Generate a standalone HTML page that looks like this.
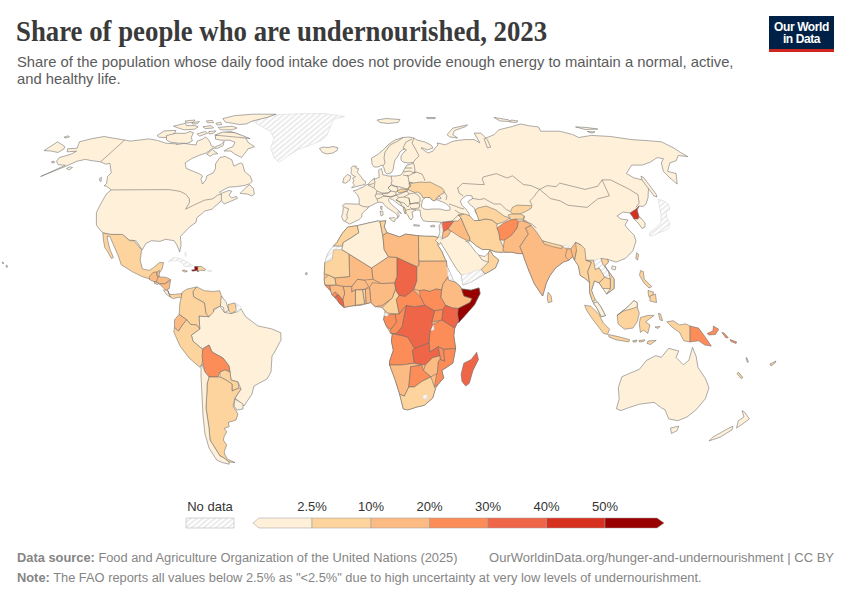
<!DOCTYPE html>
<html><head><meta charset="utf-8">
<style>
html,body{margin:0;padding:0;background:#fff;width:850px;height:600px;overflow:hidden;position:relative}
.t{position:absolute;white-space:nowrap;font-family:"Liberation Sans",sans-serif}
#title{left:16px;top:15.7px;font-family:"Liberation Serif",serif;font-weight:bold;font-size:28.5px;color:#3a3a3a;line-height:32px;transform-origin:0 0;transform:scaleX(0.94)}
#sub1,#sub2{left:17px;font-size:14.8px;color:#5b5b5b;line-height:17px;transform-origin:0 0}
#sub1{top:53.5px}#sub2{top:70.7px}
#logo{position:absolute;left:769px;top:16px;width:65px;height:33px;background:#002147;border-bottom:3px solid #ce261e}
#logo div{position:absolute;left:0;width:65px;text-align:center;color:#fff;font-family:"Liberation Sans",sans-serif;font-weight:bold;font-size:12px;letter-spacing:-0.4px;line-height:13px}
.foot{font-size:13px;color:#858585;line-height:15px;transform-origin:0 0}
.foot b{color:#858585}
.lg{font-size:13px;color:#333;line-height:15px}
svg{position:absolute;left:0;top:0}
</style></head><body>
<div id="title" class="t">Share of people who are undernourished, 2023</div>
<div id="sub1" class="t">Share of the population whose daily food intake does not provide enough energy to maintain a normal, active,</div>
<div id="sub2" class="t">and healthy life.</div>
<div id="logo"><div style="top:5px">Our World</div><div style="top:17px">in Data</div></div>
<svg width="850" height="600" viewBox="0 0 850 600">
<defs><pattern id="hatch" width="3.9" height="4" patternUnits="userSpaceOnUse" patternTransform="rotate(50)"><rect width="3.9" height="4" fill="#fff"/><line x1="1" y1="0" x2="1" y2="4" stroke="#e2e2e2" stroke-width="1.3"/></pattern></defs>
<g stroke="#6a6a6a" stroke-width="0.55" stroke-linejoin="round">
<path d="M79.4,141.8 L91.2,138.8 L104.1,136.5 L110.0,137.6 L124.7,140.0 L130.5,141.1 L148.9,138.9 L157.4,140.4 L165.8,143.2 L177.1,143.9 L176.5,144.5 L184.1,143.4 L191.7,144.5 L196.0,145.0 L197.1,141.2 L202.5,139.1 L205.7,136.9 L207.9,139.1 L210.1,142.3 L211.2,145.6 L214.4,147.2 L220.9,144.5 L224.2,141.2 L223.1,145.6 L217.7,148.3 L212.2,148.3 L209.0,151.0 L205.7,153.2 L199.2,155.3 L191.7,158.6 L185.2,162.9 L186.2,168.3 L193.8,171.6 L199.2,173.7 L202.5,175.9 L200.9,179.2 L202.5,184.0 L205.7,180.2 L206.8,175.9 L213.3,172.7 L215.5,168.3 L215.5,164.0 L219.8,157.5 L225.2,156.4 L231.7,159.7 L233.9,166.2 L240.4,162.9 L242.6,164.0 L244.7,171.6 L250.1,175.9 L252.3,181.3 L249.6,183.8 L244.0,185.6 L236.5,186.6 L228.9,187.1 L225.2,188.9 L219.5,192.2 L221.0,193.5 L228.9,190.4 L231.8,191.3 L228.9,195.1 L231.8,197.9 L236.5,196.5 L237.4,198.4 L224.2,204.0 L221.4,200.7 L213.9,207.3 L212.0,209.2 L204.5,211.1 L201.6,213.9 L196.9,217.6 L196.0,222.4 L189.4,227.1 L180.4,236.5 L181.1,244.9 L179.7,252.0 L176.9,244.9 L174.1,240.7 L165.6,239.3 L160.0,241.4 L151.5,240.7 L145.8,243.5 L142.3,249.9 L135.9,240.7 L128.9,240.0 L123.2,235.1 L109.8,234.4 L103.5,233.0 L101.4,231.5 L96.4,225.2 L96.4,212.5 L100.6,204.0 L106.3,194.1 L111.2,189.9 L106.5,186.2 L104.1,185.9 L106.5,183.5 L107.6,176.5 L111.2,172.9 L110.0,163.5 L105.3,164.1 L100.6,161.8 L91.2,160.6 L85.3,159.4 L77.1,161.2 L65.3,166.5 L40.6,176.5 L65.3,165.3 L58.2,164.7 L56.5,161.2 L59.4,157.6 L71.2,154.1 L76.5,151.2 L67.1,151.8 L67.6,148.8 L77.1,148.2 L78.2,145.3 Z" fill="#fef0d9"/>
<path d="M240.2,193.2 L245.9,187.5 L249.6,184.7 L253.4,188.5 L254.4,194.1 L251.5,196.0 L247.8,194.1 L242.1,193.6 Z" fill="#fef0d9"/>
<path d="M377.0,120.0 L386.0,118.5 L400.0,119.5 L398.0,122.5 L388.0,123.5 L380.0,122.5 Z" fill="#fef0d9"/>
<path d="M2.0,262.0 L4.0,263.0 L3.0,264.0 Z" fill="#fef0d9"/>
<path d="M6.0,265.0 L8.0,266.5 L6.5,267.5 Z" fill="#fef0d9"/>
<path d="M252.9,120.9 L275.9,114.7 L298.8,113.8 L323.5,113.5 L344.7,116.5 L334.1,119.1 L330.6,126.2 L327.1,135.0 L321.8,140.3 L309.4,145.6 L298.8,149.1 L284.7,157.9 L279.4,162.3 L274.1,157.9 L270.6,147.4 L274.1,138.5 L270.6,131.5 L258.2,124.4 Z" fill="url(#hatch)" stroke="#d4d4d4"/>
<path d="M319.5,148.5 L323.0,147.0 L328.0,147.5 L333.0,146.5 L338.0,147.8 L337.0,150.5 L333.0,153.0 L327.0,154.0 L322.5,152.5 L321.0,150.5 Z" fill="#fef0d9"/>
<path d="M222.9,118.6 L234.7,115.6 L252.9,114.2 L275.9,114.2 L267.1,117.4 L252.9,120.9 L246.0,124.0 L239.4,124.5 L232.4,123.3 L225.3,122.1 Z" fill="#fef0d9"/>
<path d="M215.5,135.8 L222.0,132.6 L230.7,131.5 L237.2,133.7 L245.8,138.0 L248.0,142.3 L254.5,146.7 L248.0,148.8 L245.8,152.1 L241.5,157.5 L235.0,154.2 L230.7,151.0 L224.2,151.0 L227.4,148.8 L232.8,146.7 L235.0,142.3 L229.6,140.2 L220.9,140.2 L215.5,139.1 Z" fill="#fef0d9"/>
<path d="M206.8,154.2 L212.2,149.4 L217.7,153.7 L213.3,154.2 L210.1,156.4 Z" fill="#fef0d9"/>
<path d="M157.1,135.6 L164.1,130.9 L175.9,130.4 L174.7,133.3 L167.6,137.4 L159.4,137.4 Z" fill="#fef0d9"/>
<path d="M166.5,135.6 L175.9,133.3 L185.3,133.3 L190.0,131.5 L193.5,132.7 L191.2,137.4 L192.4,140.9 L187.6,143.3 L179.4,143.3 L170.0,142.1 L166.5,139.8 Z" fill="#fef0d9"/>
<path d="M173.5,126.2 L185.3,123.3 L186.5,125.6 L194.7,125.6 L198.2,126.8 L194.7,129.2 L184.1,129.8 L178.2,128.0 Z" fill="#fef0d9"/>
<path d="M191.8,122.7 L199.4,121.5 L197.1,123.9 L192.5,124.0 Z" fill="#fef0d9"/>
<path d="M202.9,126.8 L211.2,125.6 L213.5,128.0 L205.3,128.6 Z" fill="#fef0d9"/>
<path d="M206.5,120.9 L212.4,120.4 L213.5,122.7 L207.6,122.7 Z" fill="#fef0d9"/>
<path d="M215.9,123.3 L220.6,122.1 L221.8,124.5 L217.1,125.1 Z" fill="#fef0d9"/>
<path d="M218.2,127.4 L232.4,126.2 L237.1,128.0 L232.4,129.8 L220.6,129.8 Z" fill="#fef0d9"/>
<path d="M197.1,133.9 L205.3,131.5 L207.6,133.3 L199.4,136.2 Z" fill="#fef0d9"/>
<path d="M208.8,131.5 L215.9,130.9 L213.5,133.3 L209.0,134.0 Z" fill="#fef0d9"/>
<path d="M214.7,135.1 L222.9,132.1 L234.7,132.7 L244.1,136.2 L250.0,138.6 L245.8,138.0 Z" fill="#fef0d9"/>
<path d="M185.0,121.0 L195.0,120.0 L193.0,122.5 L186.0,123.0 Z" fill="#fef0d9"/>
<path d="M44.1,150.6 L57.6,141.8 L64.7,146.5 L64.1,148.8 L58.0,152.5 L51.0,151.0 Z" fill="#fef0d9"/>
<path d="M102.8,232.9 L110.6,234.4 L122.6,234.4 L129.6,240.7 L133.9,240.7 L141.6,249.9 L140.2,260.5 L142.4,268.9 L149.4,270.4 L153.6,267.5 L159.3,262.6 L163.5,262.6 L162.1,268.9 L159.3,273.2 L149.4,278.8 L142.4,276.7 L132.5,271.8 L121.2,264.7 L118.4,256.2 L109.9,236.5 L107.1,236.0 L107.8,240.7 L109.9,249.2 L113.4,257.6 L111.3,258.4 L107.8,252.0 L104.9,247.8 L103.5,240.7 Z" fill="#fdd49e"/>
<path d="M149.4,276.7 L152.9,272.5 L156.5,271.8 L157.2,276.0 L159.3,276.7 L156.5,281.6 L153.6,281.6 L149.4,279.5 Z" fill="#fdbb84"/>
<path d="M157.2,271.8 L159.3,270.4 L159.3,276.0 L157.2,276.0 Z" fill="#fdd49e"/>
<path d="M157.9,276.7 L166.4,277.4 L170.6,279.5 L164.9,283.8 L159.3,283.8 L156.5,281.6 Z" fill="#fdbb84"/>
<path d="M154.4,281.6 L158.6,283.1 L157.9,284.5 L154.5,283.5 Z" fill="#fdd49e"/>
<path d="M159.3,283.8 L164.9,283.8 L170.6,280.2 L169.2,288.7 L165.6,290.1 L161.5,286.0 Z" fill="#fdbb84"/>
<path d="M163.5,290.1 L165.6,290.1 L167.8,290.6 L170.6,297.2 L166.4,294.4 Z" fill="#fef0d9"/>
<path d="M167.8,290.6 L169.2,294.4 L174.8,294.4 L181.9,293.6 L182.6,298.6 L179.1,297.2 L173.4,298.6 L170.6,297.2 Z" fill="#fdd49e"/>
<path d="M168.5,261.5 L172.1,258.2 L176.8,257.6 L182.6,259.4 L188.5,262.9 L192.6,265.6 L189.7,266.5 L184.4,266.5 L182.6,263.5 L177.9,260.6 L172.1,260.6 Z" fill="url(#hatch)" stroke="#d4d4d4"/>
<path d="M191.5,270.0 L195.0,269.4 L194.4,266.5 L197.9,266.5 L197.9,271.8 L196.8,270.6 L192.6,271.2 Z" fill="#990000"/>
<path d="M197.9,266.5 L201.5,266.5 L205.6,269.4 L205.0,270.6 L200.3,270.3 L197.9,271.8 Z" fill="#fdd49e"/>
<path d="M182.1,270.6 L184.4,270.0 L187.4,271.2 L185.0,272.1 Z" fill="#fdd49e"/>
<path d="M207.9,270.3 L211.5,270.3 L211.5,271.5 L207.9,271.5 Z" fill="url(#hatch)" stroke="#d4d4d4"/>
<path d="M184.9,252.9 L185.6,252.4 L186.2,255.9 L185.3,256.5 Z" fill="url(#hatch)" stroke="#d4d4d4"/>
<path d="M199.0,316.0 L208.9,316.7 L213.5,310.6 L219.7,306.0 L224.2,312.1 L230.4,313.6 L236.5,312.1 L241.1,309.1 L245.7,316.7 L257.9,325.9 L271.7,328.9 L280.8,332.8 L281.0,340.0 L274.7,351.9 L272.0,356.0 L271.0,372.0 L267.0,379.0 L254.0,386.0 L252.0,394.0 L244.0,406.0 L235.0,398.0 L241.0,389.0 L238.0,382.0 L231.0,380.0 L230.0,372.0 L229.0,366.0 L223.0,358.0 L212.0,352.0 L209.0,345.0 L202.1,348.8 L192.9,341.2 L191.4,335.1 L199.8,329.0 Z" fill="#fef0d9"/>
<path d="M196.7,286.9 L204.4,290.7 L213.5,291.5 L219.7,290.7 L221.2,295.3 L222.7,298.4 L220.4,306.0 L213.5,309.1 L213.5,312.1 L208.9,316.7 L205.9,313.6 L204.4,302.9 L193.6,296.8 L192.9,291.5 Z" fill="#fdd49e"/>
<path d="M181.4,296.8 L182.2,292.2 L186.8,289.2 L196.7,286.9 L192.9,291.5 L193.6,296.8 L204.4,302.9 L205.9,313.6 L208.9,316.7 L199.0,316.0 L199.8,329.0 L196.7,325.1 L190.6,324.4 L186.8,319.8 L179.1,314.4 L179.9,302.9 Z" fill="#fdd49e"/>
<path d="M179.1,314.4 L186.8,319.8 L182.9,324.4 L178.4,331.2 L174.5,327.4 L174.5,319.8 Z" fill="#fdbb84"/>
<path d="M174.5,327.4 L178.4,331.2 L182.9,324.4 L186.8,319.8 L190.6,324.4 L196.7,325.1 L199.8,329.0 L191.4,335.1 L192.9,341.2 L202.1,348.8 L203.0,356.0 L202.0,364.0 L199.8,367.2 L189.1,358.0 L179.9,345.8 L173.8,332.0 Z" fill="#fdd49e"/>
<path d="M221.2,296.1 L225.8,301.4 L228.8,310.6 L224.2,312.4 L223.5,307.5 L220.4,306.0 Z" fill="#fef0d9"/>
<path d="M228.1,304.5 L235.0,302.9 L236.5,310.6 L231.1,313.6 L228.8,310.6 Z" fill="#fdd49e"/>
<path d="M236.5,303.7 L241.1,306.8 L238.8,312.1 L236.5,310.6 Z" fill="url(#hatch)" stroke="#d4d4d4"/>
<path d="M203.0,349.0 L209.0,345.0 L212.0,352.0 L223.0,358.0 L229.0,366.0 L230.0,372.0 L225.0,370.0 L220.0,372.0 L218.0,377.0 L209.0,377.0 L205.0,372.0 L203.0,364.0 L202.0,356.0 Z" fill="#fc8d59"/>
<path d="M220.0,372.0 L225.0,370.0 L230.0,372.0 L231.0,380.0 L238.0,382.0 L239.0,388.0 L232.0,391.0 L232.0,384.0 L226.0,380.0 L220.0,377.0 Z" fill="#fdd49e"/>
<path d="M209.0,377.0 L218.0,377.0 L220.0,377.0 L226.0,380.0 L232.0,384.0 L232.0,391.0 L239.0,388.0 L241.0,389.0 L235.0,398.0 L233.0,406.0 L238.0,414.0 L236.0,420.0 L228.3,422.5 L229.2,426.7 L224.2,428.3 L226.7,431.7 L224.2,436.7 L223.3,440.0 L226.7,445.0 L224.2,451.7 L225.0,455.0 L227.5,459.2 L235.0,462.5 L229.0,462.0 L224.0,458.0 L220.0,456.0 L215.0,448.0 L210.0,440.0 L209.0,428.0 L206.0,408.0 L207.0,390.0 L207.0,384.0 Z" fill="#fdd49e"/>
<path d="M202.0,364.0 L205.0,372.0 L209.0,377.0 L207.0,384.0 L207.0,390.0 L206.0,408.0 L209.0,428.0 L210.0,440.0 L215.0,448.0 L220.0,456.0 L224.0,458.0 L229.0,462.0 L229.2,464.2 L222.0,462.5 L216.7,460.0 L209.0,448.0 L205.0,434.0 L203.0,416.0 L202.0,396.0 L201.0,376.0 L201.0,366.0 Z" fill="#fef0d9"/>
<path d="M235.0,399.0 L243.0,404.0 L243.0,409.0 L237.0,410.0 L234.0,406.0 Z" fill="#fef0d9"/>
<path d="M324.9,262.4 L327.7,253.9 L333.4,246.1 L336.9,242.6 L341.8,234.1 L347.5,227.1 L357.4,225.6 L368.2,223.1 L378.1,220.9 L379.9,221.4 L385.6,220.7 L384.2,227.1 L387.0,232.7 L399.7,236.9 L405.4,234.1 L418.5,235.8 L426.7,236.3 L433.7,236.3 L438.3,237.5 L437.8,245.1 L441.8,251.5 L445.3,259.7 L447.1,266.7 L449.4,271.4 L453.5,280.7 L459.4,285.4 L461.7,288.9 L471.0,290.2 L479.0,287.9 L480.1,293.5 L474.5,304.7 L466.6,313.7 L458.7,322.5 L458.3,321.0 L454.7,328.3 L453.8,335.7 L455.6,348.5 L452.8,363.2 L441.8,370.5 L443.7,377.8 L438.2,384.3 L435.4,388.8 L432.7,398.0 L424.4,405.3 L416.2,407.2 L407.9,409.9 L403.3,409.0 L399.7,394.3 L395.1,379.7 L389.6,365.0 L389.6,361.3 L393.3,350.3 L391.4,341.2 L392.3,333.8 L390.7,333.5 L386.5,326.5 L383.6,319.4 L385.1,311.0 L382.2,307.4 L375.2,306.7 L370.9,302.5 L365.3,303.9 L361.1,305.3 L351.2,306.0 L344.1,307.4 L339.5,303.5 L335.6,298.5 L332.1,294.7 L330.5,290.6 L329.1,288.5 L324.9,284.9 L324.2,279.3 L324.2,273.6 L324.9,266.6 Z" fill="#fdbb84"/>
<path d="M418.8,261.0 L446.5,260.9 L447.1,266.7 L449.4,271.4 L448.0,277.0 L443.0,284.0 L441.7,290.0 L436.0,289.0 L430.0,291.5 L424.0,290.0 L419.5,290.6 L413.8,289.2 L416.7,280.7 L416.7,266.6 L418.8,265.2 Z" fill="#fdbb84"/>
<path d="M419.5,290.6 L424.0,290.0 L430.0,291.5 L436.0,289.0 L441.7,290.0 L441.0,297.3 L445.7,305.3 L442.9,309.5 L434.5,310.9 L424.6,305.3 L420.4,296.8 Z" fill="#fc8d59"/>
<path d="M447.1,266.7 L449.4,271.4 L453.5,280.7 L459.4,285.4 L455.0,282.0 L448.3,280.0 L448.0,277.0 Z" fill="url(#hatch)" stroke="#d4d4d4"/>
<path d="M443.0,284.0 L448.0,277.0 L448.3,280.0 L455.0,282.0 L459.4,285.4 L461.7,288.9 L462.5,292.0 L464.0,296.0 L472.2,298.5 L470.0,302.5 L458.2,308.5 L452.3,308.0 L445.7,305.3 L441.0,297.3 L441.7,290.0 Z" fill="#fdbb84"/>
<path d="M461.7,288.9 L471.0,290.2 L479.0,287.9 L480.1,293.5 L474.5,304.7 L466.6,313.7 L458.7,322.5 L457.6,313.7 L458.2,308.5 L470.0,302.5 L472.2,298.5 L464.0,296.0 L462.5,292.0 Z" fill="#990000"/>
<path d="M445.7,305.3 L452.3,308.0 L458.2,308.5 L457.6,313.7 L458.7,322.5 L458.3,321.0 L454.7,328.3 L441.8,320.1 L442.9,309.5 Z" fill="#ef6548"/>
<path d="M434.5,310.9 L442.9,309.5 L441.8,320.1 L431.7,322.2 Z" fill="#fc8d59"/>
<path d="M432.7,324.7 L441.8,320.1 L454.7,328.3 L453.8,335.7 L455.6,348.5 L443.7,349.4 L438.2,346.7 L429.9,352.2 L429.0,343.0 L429.9,332.0 Z" fill="#fc8d59"/>
<path d="M430.5,325.0 L433.5,325.0 L434.0,330.0 L430.0,330.5 Z" fill="url(#hatch)" stroke="#d4d4d4"/>
<path d="M406.2,305.3 L414.7,306.7 L424.6,305.3 L434.5,310.9 L431.7,322.2 L432.7,324.7 L429.9,332.0 L429.0,343.0 L414.3,348.5 L407.9,337.5 L402.4,335.7 L392.3,333.8 L396.4,333.5 L402.0,326.5 L404.8,312.4 Z" fill="#ef6548"/>
<path d="M394.9,313.8 L399.2,313.8 L406.2,305.3 L404.8,312.4 L402.0,326.5 L396.4,333.5 L390.7,333.5 L390.7,329.3 L396.4,322.2 Z" fill="#fc8d59"/>
<path d="M384.4,315.9 L394.9,313.8 L396.4,322.2 L390.7,329.3 L386.5,326.5 L383.6,319.4 Z" fill="#fc8d59"/>
<path d="M384.4,313.1 L387.9,313.1 L387.9,315.9 L384.4,315.9 Z" fill="url(#hatch)" stroke="#d4d4d4"/>
<path d="M394.5,283.0 L396.4,291.2 L399.2,295.4 L396.4,299.6 L399.2,313.8 L394.9,313.8 L387.9,313.1 L385.1,311.0 L382.2,307.4 L392.1,298.2 L395.5,289.0 Z" fill="#fdd49e"/>
<path d="M399.2,295.4 L405.4,296.2 L413.3,289.8 L420.4,296.8 L424.6,305.3 L414.7,306.7 L406.2,305.3 L399.2,313.8 L396.4,299.6 Z" fill="#fc8d59"/>
<path d="M396.9,257.4 L416.7,266.6 L416.7,280.7 L413.8,289.2 L405.4,296.2 L399.2,295.4 L396.4,291.2 L394.5,283.0 L396.9,276.5 Z" fill="#ef6548"/>
<path d="M371.5,268.0 L388.4,256.7 L396.9,257.4 L396.9,276.5 L394.5,283.0 L381.4,283.5 L372.9,279.3 Z" fill="#fdbb84"/>
<path d="M369.5,287.6 L372.4,282.7 L381.4,283.5 L394.5,283.0 L395.5,289.0 L392.1,298.2 L382.2,305.3 L375.2,306.7 L370.9,302.5 Z" fill="#fdbb84"/>
<path d="M365.3,289.1 L369.5,287.6 L370.9,302.5 L366.0,303.9 Z" fill="#fdbb84"/>
<path d="M362.5,289.8 L365.3,289.1 L366.0,303.9 L364.6,303.9 Z" fill="#fdd49e"/>
<path d="M355.4,289.8 L362.5,289.8 L364.6,303.9 L355.4,305.3 Z" fill="#fdd49e"/>
<path d="M351.7,286.4 L357.4,279.3 L364.4,280.0 L368.7,286.4 L365.3,289.1 L355.4,289.8 L351.7,292.0 Z" fill="#fdbb84"/>
<path d="M343.2,286.4 L351.7,286.4 L351.7,292.0 L355.4,289.8 L355.4,305.3 L351.2,306.0 L344.1,307.4 L342.7,299.6 L344.6,293.4 Z" fill="#fdbb84"/>
<path d="M335.6,296.1 L338.5,294.7 L342.7,299.6 L344.1,307.4 L339.5,303.5 Z" fill="#ef6548"/>
<path d="M332.1,294.7 L334.9,291.9 L338.5,294.7 L335.6,296.1 L335.6,298.5 Z" fill="#fc8d59"/>
<path d="M329.1,285.6 L336.2,284.9 L343.2,286.4 L344.6,293.4 L342.7,299.6 L338.5,294.7 L334.9,291.9 L332.1,294.7 L330.5,290.6 Z" fill="#fdbb84"/>
<path d="M324.9,284.9 L329.8,285.2 L330.5,290.6 L328.0,288.5 Z" fill="#fc8d59"/>
<path d="M324.2,279.3 L328.4,275.1 L334.8,277.9 L336.2,284.9 L329.8,285.2 L324.9,284.9 Z" fill="#fdd49e"/>
<path d="M349.6,276.5 L348.9,253.9 L371.5,268.0 L372.9,279.3 L364.4,280.0 L357.4,279.3 L351.7,286.4 L343.2,286.4 L336.2,284.9 L334.8,277.9 Z" fill="#fdbb84"/>
<path d="M324.9,262.4 L331.9,259.5 L333.4,249.6 L341.8,249.6 L348.9,253.9 L349.6,276.5 L334.8,277.9 L328.4,275.1 L324.2,273.6 Z" fill="#fdd49e"/>
<path d="M333.4,246.1 L342.5,246.1 L341.8,249.6 L333.4,249.6 L331.9,259.5 L324.9,262.4 L327.7,253.9 Z" fill="url(#hatch)" stroke="#d4d4d4"/>
<path d="M341.8,234.1 L347.5,227.1 L357.4,225.6 L358.8,232.7 L350.3,238.4 L343.2,242.6 L342.5,246.1 L333.4,246.1 L336.9,242.6 Z" fill="#fdd49e"/>
<path d="M357.4,225.6 L368.2,223.1 L378.1,220.9 L379.9,221.4 L382.8,235.5 L384.2,249.6 L388.4,256.7 L371.5,268.0 L348.9,253.9 L341.8,249.6 L342.5,246.1 L343.2,242.6 L350.3,238.4 L358.8,232.7 Z" fill="#fef0d9"/>
<path d="M379.9,221.4 L385.6,220.7 L384.2,227.1 L387.0,232.7 L382.8,235.5 Z" fill="#fdd49e"/>
<path d="M382.8,235.5 L387.0,232.7 L399.7,236.9 L405.4,234.1 L418.5,235.8 L418.8,265.2 L416.7,266.6 L396.9,257.4 L388.4,256.7 L384.2,249.6 Z" fill="#fdbb84"/>
<path d="M418.5,235.8 L426.7,236.3 L433.7,236.3 L438.3,237.5 L437.8,245.1 L441.8,251.5 L445.3,259.7 L446.5,260.9 L418.8,261.0 Z" fill="#fdd49e"/>
<path d="M392.3,333.8 L402.4,335.7 L407.9,337.5 L414.3,348.5 L412.5,350.3 L414.3,363.2 L401.5,365.0 L389.6,365.0 L389.6,361.3 L393.3,350.3 L391.4,341.2 Z" fill="#fc8d59"/>
<path d="M414.3,348.5 L429.0,343.0 L429.9,352.2 L438.2,346.7 L440.0,355.8 L432.7,357.7 L425.3,365.0 L414.3,363.2 L412.5,350.3 Z" fill="#ef6548"/>
<path d="M438.2,346.7 L443.7,349.4 L444.6,361.3 L440.0,359.5 L440.0,355.8 Z" fill="#fc8d59"/>
<path d="M443.7,349.4 L455.6,348.5 L452.8,363.2 L441.8,370.5 L443.7,377.8 L438.2,384.3 L434.5,387.0 L436.3,376.0 L438.2,361.3 L440.0,359.5 L444.6,361.3 Z" fill="#fc8d59"/>
<path d="M425.3,365.0 L432.7,357.7 L440.0,355.8 L440.0,359.5 L438.2,361.3 L437.3,373.3 L430.8,376.9 L423.5,370.5 Z" fill="#fdbb84"/>
<path d="M389.6,365.0 L401.5,365.0 L414.3,363.2 L421.7,365.0 L410.7,366.8 L408.8,387.0 L404.3,396.2 L399.7,394.3 L395.1,379.7 Z" fill="#fdbb84"/>
<path d="M410.7,366.8 L421.7,365.0 L423.5,370.5 L430.8,376.9 L421.7,381.5 L414.3,387.0 L408.8,387.0 Z" fill="#fc8d59"/>
<path d="M404.3,396.2 L408.8,387.0 L414.3,387.0 L421.7,381.5 L430.8,376.9 L434.5,387.0 L435.4,388.8 L432.7,398.0 L424.4,405.3 L416.2,407.2 L407.9,409.9 L403.3,409.0 L399.7,394.3 Z" fill="#fdd49e"/>
<path d="M422.6,396.2 L426.3,394.3 L428.1,398.0 L424.4,399.8 Z" fill="url(#hatch)" stroke="#d4d4d4"/>
<path d="M476.7,352.2 L478.5,359.5 L473.0,370.5 L469.3,383.3 L465.7,386.1 L462.0,381.5 L461.1,374.2 L463.8,363.2 L471.2,359.5 Z" fill="#ef6548"/>
<path d="M343.3,220.6 L341.5,216.5 L342.7,213.5 L343.3,207.6 L342.7,205.3 L345.1,203.8 L349.8,203.8 L355.6,204.1 L359.2,204.1 L359.2,198.8 L357.4,194.7 L355.1,192.6 L353.3,190.8 L358.0,189.6 L359.2,188.5 L362.7,187.3 L366.2,184.9 L368.0,184.4 L370.4,181.4 L373.3,179.1 L376.2,178.5 L379.2,177.3 L379.0,174.0 L378.6,170.2 L381.5,168.5 L382.7,173.8 L383.0,175.0 L385.0,175.0 L388.0,176.0 L391.0,176.0 L396.0,176.0 L401.0,175.0 L403.0,172.0 L404.0,170.0 L405.0,168.0 L407.0,165.0 L411.0,164.0 L414.0,163.0 L412.0,162.5 L408.0,163.0 L403.0,162.0 L401.0,160.0 L401.0,156.0 L404.0,152.0 L406.5,150.0 L405.0,149.0 L402.0,150.0 L400.0,152.0 L398.0,156.0 L395.0,160.0 L394.0,164.0 L393.0,170.0 L391.0,173.0 L387.0,174.0 L385.0,172.0 L384.0,168.0 L382.0,165.0 L378.0,167.0 L374.0,167.0 L372.0,164.0 L371.5,158.0 L377.0,155.0 L383.0,150.0 L389.0,144.0 L395.0,140.0 L403.0,137.5 L409.0,137.0 L414.0,138.0 L417.0,140.0 L425.0,142.0 L431.0,145.0 L433.0,148.0 L427.0,150.0 L423.0,148.0 L421.0,148.0 L425.0,151.0 L428.0,153.0 L433.0,151.0 L435.0,148.0 L438.0,145.0 L437.0,143.0 L442.0,144.0 L445.0,145.0 L451.7,141.7 L455.0,140.8 L464.3,139.6 L474.2,139.6 L479.9,142.9 L474.2,133.1 L480.8,133.1 L487.4,139.6 L490.7,147.1 L487.4,147.9 L484.1,138.8 L493.9,134.7 L498.9,129.8 L512.1,126.5 L520.3,124.0 L530.0,125.9 L538.5,126.9 L540.6,131.2 L559.6,131.2 L572.4,134.4 L578.7,137.5 L591.4,135.4 L610.5,136.5 L631.7,139.6 L648.6,140.7 L661.3,141.8 L674.0,148.1 L680.4,152.4 L687.8,156.6 L678.2,155.5 L676.1,160.8 L669.8,162.9 L667.7,171.4 L676.1,173.5 L677.2,184.1 L669.8,177.8 L663.4,171.4 L661.3,162.9 L663.4,158.7 L657.1,157.6 L650.7,161.9 L642.2,165.1 L631.7,165.1 L626.4,173.5 L633.8,177.8 L642.2,179.9 L648.6,186.2 L648.0,198.0 L646.0,204.0 L643.0,206.5 L639.0,206.0 L637.0,210.0 L639.0,217.0 L641.0,218.0 L645.0,223.0 L645.0,227.0 L642.0,228.5 L639.0,224.0 L634.0,219.0 L633.0,217.0 L630.0,213.0 L623.0,212.0 L617.0,216.0 L621.0,219.0 L628.0,220.0 L625.0,225.0 L628.0,229.0 L634.0,235.0 L636.0,241.0 L632.9,250.8 L625.4,258.4 L616.0,262.1 L607.5,259.3 L608.5,262.1 L604.7,265.9 L614.1,279.1 L614.1,288.5 L606.6,294.1 L602.8,288.5 L599.1,282.8 L594.4,280.9 L591.5,290.4 L593.8,298.5 L597.5,302.0 L601.0,307.0 L605.4,315.6 L601.3,316.7 L597.1,308.3 L594.0,304.2 L590.6,296.0 L589.6,292.2 L589.6,282.8 L585.9,279.1 L580.2,275.3 L578.4,265.9 L574.6,260.2 L572.7,256.5 L568.9,260.2 L563.3,262.1 L555.8,267.8 L550.1,275.3 L546.4,282.8 L542.6,296.0 L534.5,284.0 L529.0,271.0 L524.5,259.0 L522.8,253.6 L518.5,253.6 L511.5,252.2 L504.4,252.2 L502.3,252.4 L495.3,251.8 L489.5,249.5 L482.5,249.5 L476.6,246.0 L469.7,240.2 L468.5,242.5 L475.5,251.8 L479.0,255.3 L484.8,256.5 L488.3,253.0 L490.0,250.1 L493.0,255.3 L498.8,260.0 L495.3,268.1 L484.8,274.0 L470.8,282.1 L463.2,285.0 L462.7,284.5 L461.5,275.1 L456.8,269.3 L451.0,260.0 L446.3,251.8 L440.5,242.5 L439.5,244.5 L435.4,240.4 L438.3,237.5 L439.9,232.1 L439.0,226.0 L441.3,222.3 L436.0,221.7 L428.0,221.5 L423.3,220.8 L420.8,216.7 L420.0,210.0 L416.0,210.0 L412.0,212.0 L413.0,217.0 L411.0,220.0 L409.0,218.0 L408.3,216.0 L406.1,213.3 L404.5,209.6 L404.5,207.5 L401.3,205.9 L398.6,204.3 L395.9,202.1 L392.8,199.8 L389.6,198.4 L388.5,199.5 L389.2,201.6 L391.8,204.8 L395.5,208.0 L399.2,211.2 L401.3,213.9 L400.8,212.8 L398.7,211.7 L397.6,212.8 L399.2,214.9 L398.7,217.1 L396.5,218.7 L397.6,217.1 L397.1,214.9 L395.5,213.3 L393.3,211.7 L390.1,209.6 L386.9,207.5 L384.3,204.8 L382.7,202.7 L380.0,202.1 L377.3,202.7 L374.7,203.7 L370.9,205.9 L368.6,206.5 L368.0,208.2 L365.1,210.6 L362.1,213.5 L361.5,217.1 L359.2,219.4 L354.5,221.8 L349.8,224.1 Z" fill="#fef0d9"/>
<path d="M421.5,205.0 L422.5,200.0 L426.0,197.0 L430.0,197.5 L432.0,200.0 L436.0,199.5 L440.0,201.0 L445.0,203.0 L450.0,207.0 L450.0,210.0 L446.0,210.5 L440.0,209.0 L433.0,209.0 L428.0,209.5 L424.0,209.0 L421.5,207.0 Z" fill="#fff"/>
<path d="M435.5,197.5 L440.0,196.5 L441.0,198.5 L437.0,199.0 Z" fill="#fff"/>
<path d="M460.3,201.1 L462.6,198.2 L466.7,195.5 L471.9,195.8 L472.5,198.8 L469.0,200.5 L467.8,202.3 L470.2,204.6 L473.7,207.5 L474.8,209.3 L475.4,212.2 L477.2,214.5 L478.9,218.0 L478.4,220.9 L473.7,220.9 L469.6,218.0 L469.0,213.4 L466.1,209.3 L462.0,205.2 Z" fill="#fff"/>
<path d="M350.9,167.9 L352.7,166.1 L356.2,166.1 L355.6,167.9 L358.6,168.5 L357.4,172.6 L359.2,174.4 L361.5,177.3 L362.7,179.6 L365.6,181.4 L365.1,184.4 L360.4,185.5 L355.6,186.7 L351.5,187.9 L354.5,184.9 L352.7,183.2 L353.9,180.8 L352.7,177.9 L355.6,176.7 L352.1,174.9 L350.9,172.6 L351.5,170.2 Z" fill="#fef0d9"/>
<path d="M342.7,182.6 L343.9,177.9 L347.4,174.4 L350.9,176.1 L349.8,180.2 L345.6,183.2 Z" fill="#fef0d9"/>
<path d="M389.1,218.1 L394.4,217.6 L395.5,218.7 L394.4,221.9 L392.3,220.8 Z" fill="#fef0d9"/>
<path d="M380.0,211.2 L382.7,211.2 L383.2,214.9 L381.1,216.0 L380.5,213.5 Z" fill="#fef0d9"/>
<path d="M380.5,206.4 L382.1,206.4 L381.9,209.6 L380.8,209.0 Z" fill="#fef0d9"/>
<path d="M413.8,224.6 L419.4,225.2 L419.4,226.2 L413.8,225.8 Z" fill="#fef0d9"/>
<path d="M430.4,225.9 L434.0,225.0 L435.0,226.5 L431.0,227.0 Z" fill="#fef0d9"/>
<path d="M447.0,134.7 L452.8,128.1 L467.6,124.8 L465.9,126.5 L454.4,130.6 L452.8,134.7 L457.7,138.0 L450.0,137.0 Z" fill="#fef0d9"/>
<path d="M493.9,117.4 L508.8,119.9 L510.4,121.5 L500.0,121.0 Z" fill="#fef0d9"/>
<path d="M511.0,120.0 L518.0,121.0 L516.0,122.5 L510.0,122.0 Z" fill="#fef0d9"/>
<path d="M426.4,117.4 L435.5,117.6 L435.0,118.6 L427.0,118.6 Z" fill="#fef0d9"/>
<path d="M575.5,126.9 L587.2,127.5 L597.8,129.1 L585.0,129.5 Z" fill="#fef0d9"/>
<path d="M587.2,131.5 L595.0,131.8 L592.0,133.2 Z" fill="#fef0d9"/>
<path d="M641.0,176.0 L644.0,178.0 L650.0,186.0 L656.0,194.0 L657.0,197.0 L654.0,196.0 L648.0,188.0 L642.0,180.0 Z" fill="#fef0d9"/>
<path d="M658.0,199.0 L664.0,201.0 L668.0,204.0 L670.0,209.0 L666.0,212.0 L667.0,218.0 L670.0,224.0 L668.0,229.0 L664.0,231.0 L658.0,233.0 L654.0,235.5 L650.0,236.0 L649.0,233.0 L653.0,230.0 L658.0,226.0 L661.0,222.0 L661.0,215.0 L660.0,210.0 L659.0,204.0 Z" fill="url(#hatch)" stroke="#d4d4d4"/>
<path d="M612.2,265.9 L616.0,266.8 L615.1,270.0 L611.5,268.8 Z" fill="#fef0d9"/>
<path d="M636.7,252.7 L638.6,254.6 L637.6,260.2 L635.8,258.4 Z" fill="#fdd49e"/>
<path d="M548.2,292.2 L551.1,296.0 L552.0,301.6 L548.2,302.6 L547.3,297.9 Z" fill="#fdd49e"/>
<path d="M640.5,270.6 L643.3,271.5 L644.2,279.1 L651.8,286.6 L649.0,288.0 L644.0,283.0 L639.5,275.3 Z" fill="#fdd49e"/>
<path d="M648.0,290.4 L653.6,292.2 L651.8,299.8 L648.5,296.0 Z" fill="#fdd49e"/>
<path d="M649.9,296.0 L655.5,294.1 L656.5,302.6 L650.0,301.0 Z" fill="#fdd49e"/>
<path d="M441.8,222.5 L454.0,221.0 L451.0,225.0 L448.0,229.0 L443.0,232.0 L442.3,228.0 Z" fill="#ef6548"/>
<path d="M439.9,232.1 L441.8,222.5 L442.3,228.0 L443.0,232.0 L442.0,239.0 L440.5,240.0 Z" fill="url(#hatch)" stroke="#d4d4d4"/>
<path d="M443.0,232.0 L448.0,229.0 L451.0,231.0 L448.0,236.0 L444.0,238.0 L442.0,239.0 Z" fill="#fdbb84"/>
<path d="M454.0,221.0 L458.0,221.0 L461.0,218.0 L464.0,225.0 L467.0,232.0 L470.0,238.0 L469.7,240.2 L468.0,241.0 L460.0,237.0 L451.0,231.0 L448.0,229.0 L451.0,225.0 Z" fill="#fdbb84"/>
<path d="M461.0,218.0 L458.0,215.0 L465.0,214.0 L470.0,216.0 L474.0,220.5 L479.0,220.5 L485.0,219.0 L492.0,220.0 L497.0,224.0 L497.0,228.0 L499.0,233.0 L500.0,240.0 L504.4,249.4 L502.3,252.4 L495.3,251.8 L489.5,249.5 L482.5,249.5 L476.6,246.0 L469.7,240.2 L470.0,238.0 L467.0,232.0 L464.0,225.0 Z" fill="#fdd49e"/>
<path d="M475.0,210.0 L478.0,208.0 L486.0,206.0 L496.0,210.0 L504.0,216.0 L510.0,218.0 L504.0,222.0 L497.0,224.0 L492.0,220.0 L485.0,219.0 L479.0,220.5 L477.0,215.0 L476.0,212.0 Z" fill="#fdd49e"/>
<path d="M508.2,214.9 L512.5,213.8 L520.1,213.8 L524.4,216.0 L523.4,219.2 L515.8,219.2 L511.4,220.3 L509.3,217.0 Z" fill="#fdd49e"/>
<path d="M512.5,207.3 L516.9,205.1 L532.0,205.7 L531.0,208.4 L525.5,211.6 L520.1,213.8 L512.5,213.8 L510.4,211.6 Z" fill="#fdd49e"/>
<path d="M497.0,228.0 L504.0,223.0 L510.0,220.0 L516.0,219.0 L518.5,221.2 L517.0,228.0 L512.0,235.0 L508.0,240.0 L504.4,240.2 L500.0,240.0 L499.0,233.0 Z" fill="#fc8d59"/>
<path d="M518.5,221.2 L525.6,220.5 L531.2,225.4 L525.6,228.2 L528.4,233.9 L519.9,246.6 L522.8,253.6 L518.5,253.6 L511.5,252.2 L504.4,252.2 L503.0,249.4 L504.4,240.2 L511.5,235.3 L517.1,228.2 Z" fill="#fdbb84"/>
<path d="M525.6,228.2 L531.2,225.4 L536.9,232.5 L542.5,240.9 L553.8,245.2 L562.3,246.6 L565.1,248.0 L567.1,248.9 L570.8,248.9 L575.5,242.4 L581.2,245.2 L576.5,250.8 L574.6,260.2 L572.7,256.5 L568.9,260.2 L563.3,262.1 L555.8,267.8 L550.1,275.3 L546.4,282.8 L542.6,296.0 L534.5,284.0 L529.0,271.0 L524.5,259.0 L522.8,253.6 L519.9,246.6 L528.4,233.9 Z" fill="#fdbb84"/>
<path d="M542.5,240.9 L553.8,243.8 L562.3,245.9 L561.6,248.7 L552.4,246.6 L544.0,244.0 Z" fill="#fdd49e"/>
<path d="M563.7,245.2 L568.0,244.9 L568.7,247.3 L564.0,247.5 Z" fill="url(#hatch)" stroke="#d4d4d4"/>
<path d="M567.1,248.9 L570.8,248.9 L572.7,256.5 L568.9,260.2 L565.2,256.5 Z" fill="#fdbb84"/>
<path d="M575.5,242.4 L581.2,245.2 L584.9,248.9 L585.9,260.2 L591.5,262.1 L587.8,271.5 L589.6,282.8 L585.9,279.1 L580.2,275.3 L578.4,265.9 L574.6,260.2 L576.5,250.8 Z" fill="#fdd49e"/>
<path d="M593.4,260.2 L600.9,258.4 L602.8,264.0 L608.5,271.5 L610.4,279.1 L604.7,277.2 L599.1,267.8 L595.3,269.6 Z" fill="url(#hatch)" stroke="#d4d4d4"/>
<path d="M585.9,260.2 L593.4,260.2 L595.3,269.6 L599.1,267.8 L604.7,277.2 L599.1,282.8 L594.4,280.9 L591.5,290.4 L595.3,299.8 L592.5,301.6 L589.6,292.2 L589.6,282.8 L587.8,271.5 L591.5,262.1 Z" fill="#fdd49e"/>
<path d="M599.1,282.8 L604.7,277.2 L610.4,279.1 L610.4,288.5 L602.8,288.5 Z" fill="#fdd49e"/>
<path d="M600.9,258.4 L607.5,259.3 L608.5,262.1 L604.7,265.9 L614.1,279.1 L614.1,288.5 L606.6,294.1 L610.4,288.5 L610.4,279.1 L608.5,271.5 L602.8,264.0 Z" fill="#fdd49e"/>
<path d="M594.0,302.5 L597.5,302.0 L601.0,307.0 L605.4,315.6 L601.3,316.7 L597.1,308.3 L594.0,304.2 Z" fill="#fef0d9"/>
<path d="M630.0,213.0 L636.0,209.0 L639.0,206.0 L637.0,210.0 L639.0,217.0 L638.0,219.0 L634.0,219.0 L633.0,217.0 Z" fill="#d7301f"/>
<path d="M461.5,275.1 L468.0,273.5 L475.0,271.0 L481.3,269.3 L484.8,274.0 L470.8,282.1 L463.2,285.0 L462.7,284.5 Z" fill="url(#hatch)" stroke="#d4d4d4"/>
<path d="M488.3,253.0 L490.0,250.1 L493.0,255.3 L498.8,260.0 L495.3,268.1 L484.8,274.0 L481.3,269.3 L488.3,262.3 Z" fill="#fdd49e"/>
<path d="M409.0,183.0 L413.0,183.0 L421.0,182.0 L425.0,182.5 L430.0,182.0 L434.0,184.0 L438.0,186.0 L442.0,188.0 L444.0,190.5 L444.0,193.0 L440.0,195.0 L438.0,196.5 L436.0,199.0 L435.0,201.0 L432.0,200.0 L430.0,197.5 L426.0,197.5 L423.0,198.0 L422.0,196.0 L420.0,193.0 L418.0,192.0 L415.0,192.5 L410.0,190.5 L408.0,189.5 L409.5,186.0 Z" fill="#fdd49e"/>
<path d="M397.0,191.0 L401.0,189.0 L408.0,189.5 L407.0,191.0 L403.0,192.0 L399.0,193.0 Z" fill="#fdd49e"/>
<path d="M403.0,207.0 L405.0,208.0 L406.0,213.0 L405.0,214.0 L404.0,211.0 Z" fill="#fdd49e"/>
<path d="M584.6,305.2 L590.8,306.2 L599.2,314.6 L603.3,322.9 L609.6,329.2 L607.5,334.4 L603.3,333.3 L597.1,325.0 L590.8,316.7 L586.7,310.4 Z" fill="#fdd49e"/>
<path d="M608.6,334.5 L618.1,336.6 L629.8,339.8 L628.7,341.9 L616.0,339.8 L609.0,337.0 Z" fill="#fdd49e"/>
<path d="M617.1,315.4 L621.3,312.2 L628.7,305.9 L634.0,300.6 L637.2,302.7 L637.2,306.9 L639.3,313.3 L637.2,321.8 L632.9,328.1 L624.5,329.2 L618.1,323.9 Z" fill="#fdd49e"/>
<path d="M617.1,315.4 L621.3,312.2 L628.7,305.9 L634.0,300.6 L637.2,302.7 L637.2,306.9 L630.8,309.1 L622.4,311.2 Z" fill="#fef0d9"/>
<path d="M640.4,317.5 L647.8,315.4 L654.1,315.4 L649.9,318.6 L645.6,321.8 L649.9,324.9 L647.8,333.4 L643.5,330.2 L640.4,332.4 L639.3,323.9 Z" fill="#fdd49e"/>
<path d="M658.4,313.3 L660.5,314.0 L662.6,320.7 L660.0,320.0 Z" fill="#fdd49e"/>
<path d="M632.9,340.8 L637.0,340.0 L636.0,342.0 L633.0,342.0 Z" fill="#fdd49e"/>
<path d="M639.0,340.5 L645.0,339.8 L643.5,341.5 L639.5,342.0 Z" fill="#fdd49e"/>
<path d="M648.0,341.0 L656.2,340.3 L650.5,344.5 L647.0,343.5 Z" fill="#fdd49e"/>
<path d="M655.0,327.0 L660.0,326.5 L658.0,328.5 Z" fill="#fdd49e"/>
<path d="M666.8,321.8 L673.2,320.7 L679.5,324.9 L685.9,323.9 L690.1,326.0 L690.1,341.9 L683.8,340.8 L679.5,332.4 L673.2,328.1 L670.0,325.0 Z" fill="#fdd49e"/>
<path d="M690.1,326.0 L698.6,328.1 L704.9,336.6 L711.3,346.1 L704.9,345.1 L698.6,340.8 L690.1,341.9 Z" fill="#fc8d59"/>
<path d="M707.1,333.4 L713.0,331.0 L713.4,326.0 L718.7,329.2 L715.5,334.5 L709.0,335.0 Z" fill="#fc8d59"/>
<path d="M721.9,332.4 L724.0,333.0 L728.2,337.6 L726.0,338.0 Z" fill="#fc8d59"/>
<path d="M730.0,339.5 L736.7,341.9 L736.0,343.5 L731.0,341.5 Z" fill="#fc8d59"/>
<path d="M616.4,408.8 L619.2,398.7 L618.3,387.7 L621.9,376.7 L628.3,373.9 L639.3,369.3 L646.7,360.2 L655.8,355.6 L661.3,357.4 L668.7,348.3 L678.8,351.0 L676.0,357.4 L683.4,364.8 L688.9,360.2 L692.5,347.3 L696.2,356.5 L698.0,367.5 L705.4,378.5 L709.0,387.7 L705.4,398.7 L696.2,409.7 L687.0,417.0 L677.8,420.7 L668.7,418.9 L665.0,409.7 L661.3,407.8 L654.0,402.3 L639.3,404.2 L628.3,407.8 L621.0,410.6 Z" fill="#fef0d9"/>
<path d="M670.5,428.0 L678.8,426.2 L676.9,430.8 L671.4,433.5 Z" fill="#fef0d9"/>
<path d="M742.0,410.6 L744.8,412.4 L749.4,418.9 L742.0,424.4 L736.5,428.0 L738.4,420.7 L743.9,417.0 Z" fill="#fef0d9"/>
<path d="M732.9,426.2 L732.0,429.9 L720.0,437.2 L709.0,440.9 L712.7,437.2 L727.4,428.9 Z" fill="#fef0d9"/>
<path d="M738.4,372.1 L742.9,377.6 L741.1,378.5 L737.0,373.5 Z" fill="#fdd49e"/>
<path d="M746.6,357.4 L748.4,362.0 L747.5,362.5 L746.0,358.0 Z" fill="#fdd49e"/>
<path d="M770.0,364.0 L773.0,362.5 L776.0,361.0 L775.0,363.0 L771.0,366.0 Z" fill="#fdd49e"/>
<path d="M66.5,168.5 L70.0,166.8 L72.5,167.5 L69.0,170.0 Z" fill="#fef0d9"/>
<path d="M64.0,137.2 L68.0,135.8 L69.5,136.8 L65.5,138.0 Z" fill="#fef0d9"/>
<path d="M51.5,161.8 L54.0,161.0 L54.5,162.5 L52.0,163.0 Z" fill="#fef0d9"/>
<path d="M99.5,178.5 L101.5,177.5 L101.0,181.5 L99.8,181.0 Z" fill="#fef0d9"/>
<path d="M305.5,273.0 L307.0,272.5 L307.2,274.5 L305.7,274.8 Z" fill="#fef0d9"/>
</g><g stroke="#6a6a6a" stroke-width="0.55" fill="none">
<path d="M124.7,140.0 L100.6,161.8"/>
<path d="M111.2,189.9 L169.1,189.6 L180.0,191.3 L185.6,194.1 L189.4,198.8 L189.4,202.6 L185.6,209.2 L195.1,204.5 L204.5,200.2 L212.9,198.8 L217.6,195.1 L221.4,194.1 L221.4,200.7"/>
<path d="M457.5,188.4 L462.5,183.4 L480.0,184.5 L484.3,184.5 L482.2,179.1 L483.3,176.9 L496.3,173.7 L501.7,175.8 L507.1,178.0 L512.5,175.8 L523.4,184.5 L531.0,185.6 L539.6,189.4 L536.4,193.2 L534.2,196.4 L529.9,200.8 L532.0,205.1"/>
<path d="M479.4,199.6 L484.3,198.6 L494.1,204.0 L500.6,204.0 L506.0,209.4 L510.4,211.6"/>
<path d="M539.6,189.4 L547.2,185.6 L555.9,186.7 L559.6,183.1 L585.1,189.4 L597.8,186.2 L602.0,179.9 L610.5,179.9 L629.5,189.4 L638.0,194.7 L639.1,203.2 L635.9,207.4"/>
<path d="M539.6,189.4 L550.5,198.6 L560.0,200.8 L568.1,205.3 L587.2,207.4 L597.8,198.9 L609.4,195.8 L602.0,179.9"/>
<path d="M524.4,216.0 L523.4,221.4 L531.0,223.5 L536.4,227.9"/>
<path d="M403.0,137.5 L398.0,141.0 L390.0,145.0 L385.0,152.0 L384.0,158.0 L385.0,163.0 L383.0,166.0"/>
<path d="M412.0,139.0 L406.0,142.0 L403.0,148.0 L405.0,149.0"/>
<path d="M414.0,138.0 L412.0,143.0 L416.0,150.0 L419.0,156.0 L415.0,160.0 L413.0,162.5"/>
<path d="M414.0,164.0 L415.0,170.0 L414.0,173.0 L416.0,172.0 L422.0,174.0 L424.0,178.0 L425.0,181.0"/>
<path d="M413.0,183.0 L409.0,182.0 L408.0,176.0 L407.0,175.0"/>
<path d="M405.0,168.0 L412.0,168.0"/>
<path d="M403.0,172.0 L410.0,171.0 L414.0,173.0"/>
<path d="M403.0,175.0 L408.0,176.0 L412.0,174.0 L416.0,172.0"/>
<path d="M391.0,176.0 L392.0,181.0 L391.0,184.0 L394.0,186.0 L400.0,187.0 L407.0,189.0 L411.0,186.0 L409.0,182.0"/>
<path d="M368.0,185.0 L374.0,188.0 L377.0,191.0 L376.0,194.0 L375.0,196.0 L377.0,199.0 L378.0,202.0"/>
<path d="M368.0,185.0 L372.0,184.0 L374.0,183.0"/>
<path d="M374.0,178.0 L375.0,182.0 L374.0,188.0"/>
<path d="M377.0,191.0 L382.0,193.0 L388.0,193.0 L391.0,191.0 L388.0,188.0 L391.0,185.0"/>
<path d="M376.0,194.0 L382.0,194.0 L384.0,196.0 L380.0,198.0 L377.0,199.0"/>
<path d="M382.0,194.0 L388.0,193.0 L391.0,191.0 L396.0,192.0 L396.0,195.0 L392.0,197.0 L386.0,196.0 L384.0,196.0"/>
<path d="M388.0,188.0 L391.0,185.0 L397.0,187.0 L398.0,190.0 L396.0,192.0"/>
<path d="M396.0,195.0 L400.0,194.0 L407.0,191.0 L409.0,194.0 L404.0,197.0 L399.0,197.5"/>
<path d="M384.0,196.0 L390.0,197.0"/>
<path d="M390.0,197.0 L393.0,196.0 L396.0,195.0 L399.0,197.5 L396.0,200.0 L400.0,202.0 L404.0,203.0"/>
<path d="M404.0,197.0 L409.0,198.0 L410.0,204.0 L408.0,207.0 L404.0,203.0"/>
<path d="M396.0,200.0 L400.0,202.0 L402.0,206.0"/>
<path d="M409.0,194.0 L414.0,193.0 L418.0,195.0 L420.0,198.0 L420.0,202.0 L415.0,203.0 L410.0,204.0 L409.0,198.0"/>
<path d="M410.0,204.0 L415.0,203.0 L420.0,204.0 L419.0,208.0 L412.0,209.0 L410.0,207.0"/>
<path d="M406.0,210.0 L412.0,209.0 L416.0,210.0"/>
<path d="M359.2,204.7 L363.3,206.5 L368.6,207.1"/>
<path d="M343.9,207.1 L348.6,208.8 L346.8,214.7 L347.4,218.2 L345.1,221.2"/>
<path d="M444.0,191.5 L447.0,196.0 L446.0,200.0"/>
<path d="M449.0,204.0 L455.0,206.0 L460.0,208.0 L464.0,209.0"/>
<path d="M455.0,210.0 L459.0,213.0 L464.0,214.0"/>
<path d="M441.3,222.3 L452.0,221.0 L458.3,215.0 L461.7,216.0"/>
<path d="M457.5,187.5 L459.2,193.3 L463.3,195.8"/>
<path d="M472.5,198.3 L479.4,199.6"/>
<path d="M479.0,255.3 L482.0,260.0 L488.3,262.3"/>
<path d="M468.5,242.5 L465.2,241.0"/>
</g>
<path d="M253,523 L259,518 L312,518 L312,528 L259,528 Z" fill="#fef0d9" stroke="#999" stroke-width="0.5"/>
<rect x="312" y="518" width="59" height="10" fill="#fdd49e" stroke="#999" stroke-width="0.5"/>
<rect x="371" y="518" width="58.5" height="10" fill="#fdbb84" stroke="#999" stroke-width="0.5"/>
<rect x="429.5" y="518" width="58.5" height="10" fill="#fc8d59" stroke="#999" stroke-width="0.5"/>
<rect x="488" y="518" width="58.5" height="10" fill="#ef6548" stroke="#999" stroke-width="0.5"/>
<rect x="546.5" y="518" width="58.5" height="10" fill="#d7301f" stroke="#999" stroke-width="0.5"/>
<path d="M605,518 L657,518 L664,523 L657,528 L605,528 Z" fill="#990000" stroke="#999" stroke-width="0.5"/>
<rect x="186" y="518" width="48" height="10" fill="url(#hatch)" stroke="#aaa" stroke-width="0.5"/>
<text x="312" y="511" text-anchor="middle" font-family="Liberation Sans" font-size="13" fill="#333">2.5%</text>
<text x="371" y="511" text-anchor="middle" font-family="Liberation Sans" font-size="13" fill="#333">10%</text>
<text x="429.5" y="511" text-anchor="middle" font-family="Liberation Sans" font-size="13" fill="#333">20%</text>
<text x="488" y="511" text-anchor="middle" font-family="Liberation Sans" font-size="13" fill="#333">30%</text>
<text x="546.5" y="511" text-anchor="middle" font-family="Liberation Sans" font-size="13" fill="#333">40%</text>
<text x="605" y="511" text-anchor="middle" font-family="Liberation Sans" font-size="13" fill="#333">50%</text>
<text x="210" y="511" text-anchor="middle" font-family="Liberation Sans" font-size="13" fill="#333">No data</text>
</svg><div id="f1" class="t foot" style="left:17px;top:549.5px;font-size:12.85px"><b>Data source:</b> Food and Agriculture Organization of the United Nations (2025)</div>
<div id="f1r" class="t foot" style="right:16px;top:549.5px;text-align:right">OurWorldinData.org/hunger-and-undernourishment | CC BY</div>
<div id="f2" class="t foot" style="left:17px;top:570px;font-size:12.85px"><b>Note:</b> The FAO reports all values below 2.5% as "&lt;2.5%" due to high uncertainty at very low levels of undernourishment.</div>
</body></html>
